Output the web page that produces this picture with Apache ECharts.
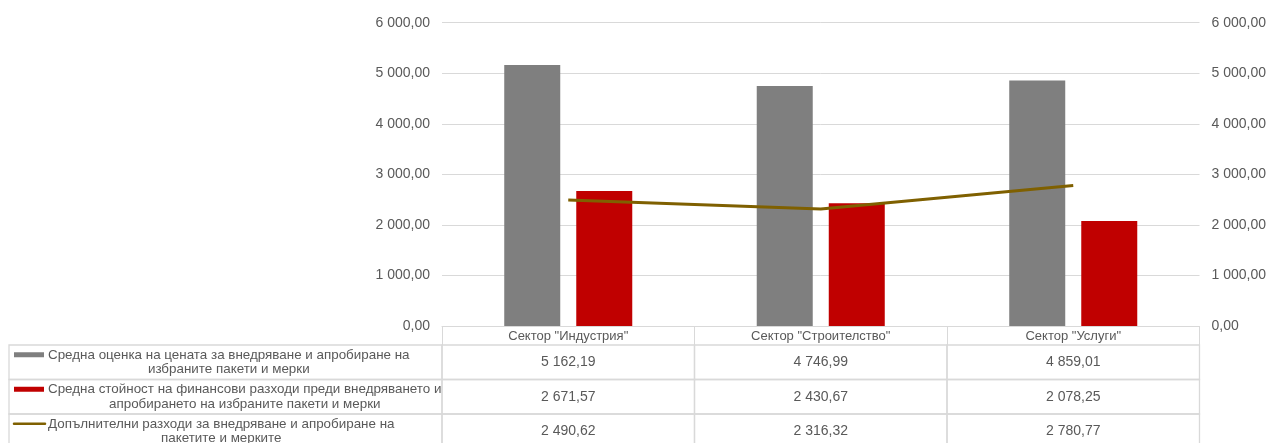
<!DOCTYPE html>
<html>
<head>
<meta charset="utf-8">
<script src="https://cdn.jsdelivr.net/npm/echarts@6/dist/echarts.min.js"></script>
<style>
html,body{margin:0;padding:0;background:#fff;}
#chart{width:1272px;height:443px;}
</style>
</head>
<body>
<div id="chart"></div>
<script>
// ---- data ----
const categories = ['Сектор "Индустрия"', 'Сектор "Строителство"', 'Сектор "Услуги"'];
const seriesNames = [
  'Средна оценка на цената за внедряване и апробиране на\nизбраните пакети и мерки',
  'Средна стойност на финансови разходи преди внедряването и\nапробирането на избраните пакети и мерки',
  'Допълнителни разходи за внедряване и апробиране на\nпакетите и мерките'
];
const avgPrice = [5162.19, 4746.99, 4859.01];
const finCosts = [2671.57, 2430.67, 2078.25];
const addCosts = [2490.62, 2316.32, 2780.77];
const yTicks = [0, 1000, 2000, 3000, 4000, 5000, 6000];

// ---- styles ----
const FONT = '"Liberation Sans", Arial, sans-serif';
const TXT = '#595959';
const BORDER = '#d9d9d9';
const colors = ['#7f7f7f', '#c00000', '#7f6000'];
const seriesValues = [avgPrice, finCosts, addCosts];
const LEG_FS = 13.4;

function fmt(v) {
  const parts = v.toFixed(2).split('.');
  return parts[0].replace(/\B(?=(\d{3})+(?!\d))/g, ' ') + ',' + parts[1];
}

const mctx = document.createElement('canvas').getContext('2d');
function blockWidth(text, size) {
  mctx.font = size + 'px ' + FONT;
  return Math.max(...text.split('\n').map(l => mctx.measureText(l).width));
}

const tableData = [];
seriesValues.forEach((arr, r) => arr.forEach((v, c) => tableData.push([c, r, v])));
const legendRows = seriesNames.map((n, r) => [0, r]);

const chart = echarts.init(document.getElementById('chart'), null, {renderer: 'canvas'});

const option = {
  backgroundColor: '#fff',
  animation: false,
  textStyle: {fontFamily: FONT},
  grid: [
    {left: 442, right: 72.5, top: 22.7, bottom: 117, outerBoundsMode: 'none'},
    {left: 442, right: 72.5, top: 345, height: 103.5, outerBoundsMode: 'none'}
  ],
  xAxis: [
    {
      type: 'category', gridIndex: 0, data: categories,
      axisLine: {show: true, lineStyle: {color: BORDER, width: 1}},
      axisTick: {show: true, length: 19, lineStyle: {color: BORDER, width: 1}},
      axisLabel: {color: TXT, fontSize: 13, fontFamily: FONT, margin: 4}
    },
    {
      type: 'category', gridIndex: 1, data: categories,
      axisLine: {show: false}, axisTick: {show: false}, axisLabel: {show: false}
    }
  ],
  yAxis: [
    {
      type: 'value', gridIndex: 0, min: 0, max: 6000, interval: 1000,
      axisLine: {show: false}, axisTick: {show: false},
      splitLine: {lineStyle: {color: BORDER, width: 1}},
      axisLabel: {color: TXT, fontSize: 14, fontFamily: FONT, margin: 12, formatter: v => fmt(v)}
    },
    {
      type: 'value', gridIndex: 0, min: 0, max: 6000, interval: 1000, position: 'right',
      axisLine: {show: false}, axisTick: {show: false}, splitLine: {show: false},
      axisLabel: {color: TXT, fontSize: 14, fontFamily: FONT, margin: 12, formatter: v => fmt(v)}
    },
    {
      type: 'category', gridIndex: 1, data: seriesNames.map((n, i) => i), inverse: true,
      axisLine: {show: false}, axisTick: {show: false}, axisLabel: {show: false}, splitLine: {show: false}
    }
  ],
  series: [
    {
      name: seriesNames[0], type: 'bar', data: avgPrice, xAxisIndex: 0, yAxisIndex: 0,
      barWidth: 56, barGap: '28.6%', itemStyle: {color: colors[0]}
    },
    {
      name: seriesNames[1], type: 'bar', data: finCosts, xAxisIndex: 0, yAxisIndex: 0,
      barWidth: 56, barGap: '28.6%', itemStyle: {color: colors[1]}
    },
    {
      name: seriesNames[2], type: 'line', data: addCosts, xAxisIndex: 0, yAxisIndex: 1,
      showSymbol: false, symbol: 'none', lineStyle: {color: colors[2], width: 3}, z: 5
    },
    {
      // data table value cells
      type: 'custom', xAxisIndex: 1, yAxisIndex: 2, data: tableData, clip: false,
      renderItem: function (params, api) {
        const c = api.value(0), r = api.value(1), v = api.value(2);
        const p = api.coord([c, r]);
        const s = api.size([1, 1]);
        return {
          type: 'group',
          children: [
            {type: 'rect', shape: {x: p[0] - s[0] / 2, y: p[1] - s[1] / 2, width: s[0], height: s[1]},
             style: {fill: 'none', stroke: BORDER, lineWidth: 1.3}},
            {type: 'text', x: p[0], y: p[1],
             style: {text: fmt(v), fill: TXT, font: '14px ' + FONT, align: 'center', verticalAlign: 'middle'}}
          ]
        };
      }
    },
    {
      // data table legend column
      type: 'custom', xAxisIndex: 1, yAxisIndex: 2, data: legendRows, clip: false,
      renderItem: function (params, api) {
        const r = api.value(1);
        const p = api.coord([0, r]);
        const s = api.size([1, 1]);
        const cs = params.coordSys;
        const left = 9, right = cs.x;
        const top = p[1] - s[1] / 2;
        const name = seriesNames[r];
        const w = blockWidth(name, LEG_FS);
        const textLeft = 48;
        const iconY = p[1] - 7.5;
        const icon = r < 2
          ? {type: 'rect', shape: {x: 14, y: iconY - 2.5, width: 30, height: 5}, style: {fill: colors[r]}}
          : {type: 'line', shape: {x1: 14, y1: iconY, x2: 45, y2: iconY},
             style: {stroke: colors[r], lineWidth: 2.5, lineCap: 'round'}};
        return {
          type: 'group',
          children: [
            {type: 'rect', shape: {x: left, y: top, width: right - left, height: s[1]},
             style: {fill: 'none', stroke: BORDER, lineWidth: 1.3}},
            icon,
            {type: 'text', x: textLeft + w / 2, y: p[1],
             style: {text: name, fill: TXT, font: LEG_FS + 'px ' + FONT, align: 'center', verticalAlign: 'middle', lineHeight: 14.5}}
          ]
        };
      }
    }
  ]
};
chart.setOption(option);
</script>
</body>
</html>
